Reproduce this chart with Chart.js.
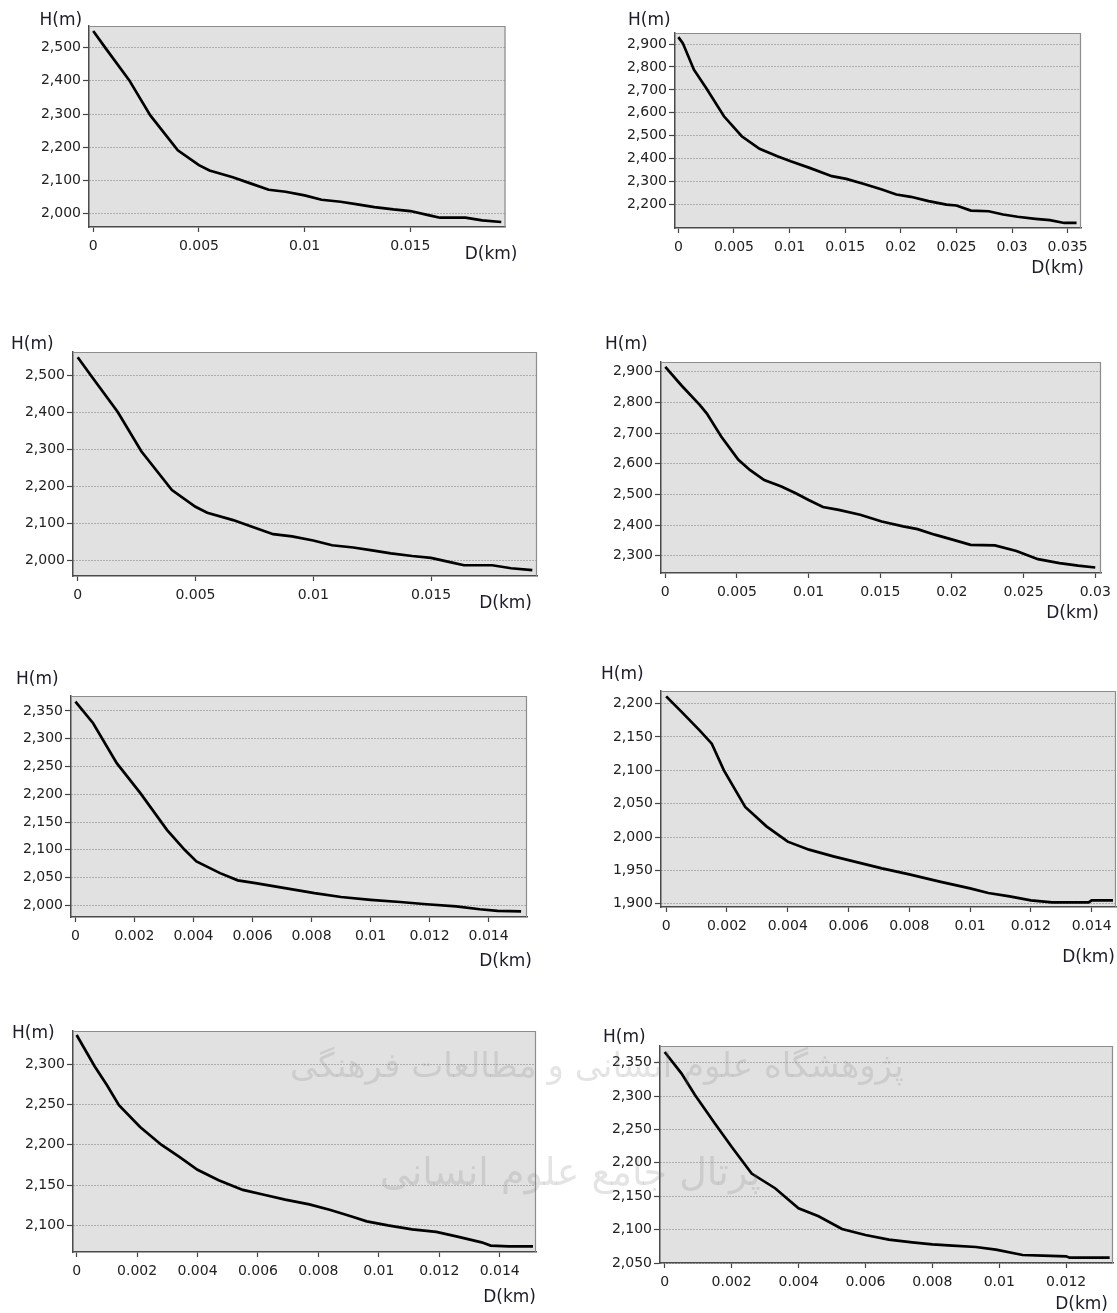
<!DOCTYPE html>
<html>
<head>
<meta charset="utf-8">
<script src="https://cdn.jsdelivr.net/npm/chart.js@4.4.1/dist/chart.umd.min.js"></script>
<style>
  html, body { margin: 0; padding: 0; background: #fff; }
  body { width: 1117px; height: 1313px; position: relative; overflow: hidden; }
  .panel { position: absolute; }
  .wm { position: absolute; font-family: "DejaVu Sans", sans-serif; color: rgba(120,120,120,0.2);
        white-space: nowrap; pointer-events: none; z-index: 5; }
</style>
</head>
<body>
<div class="wm" dir="rtl" style="left:290px; top:1045px; font-size:34px;">پژوهشگاه علوم انسانی و مطالعات فرهنگی</div>
<div class="wm" dir="rtl" style="left:380px; top:1150px; font-size:38px;">پرتال جامع علوم انسانی</div>
<script>
// elevation profiles, D in km, H in m
// profile A is used by the two upper-left charts
const dA = [0, 0.0006, 0.0017, 0.0027, 0.004, 0.005, 0.0055, 0.0066, 0.0074, 0.0083, 0.0091, 0.01, 0.0108, 0.0117, 0.0125, 0.0133, 0.0142, 0.015, 0.0159, 0.0164, 0.0176, 0.0184, 0.0193];
const hA = [2550, 2497, 2402, 2296, 2191, 2146, 2130, 2110, 2092, 2072, 2066, 2055, 2042, 2036, 2028, 2020, 2013, 2008, 1995, 1988, 1988, 1980, 1975];

const dB = [0, 0.0004, 0.0014, 0.0025, 0.0041, 0.0057, 0.0073, 0.0089, 0.0101, 0.0118, 0.0138, 0.0151, 0.0167, 0.0183, 0.0196, 0.0209, 0.0225, 0.0241, 0.025, 0.0263, 0.0279, 0.0292, 0.0305, 0.0321, 0.0334, 0.0347, 0.0358];
const hB = [2930, 2904, 2788, 2708, 2585, 2498, 2443, 2411, 2389, 2360, 2324, 2312, 2290, 2266, 2244, 2234, 2215, 2200, 2196, 2174, 2171, 2157, 2147, 2138, 2132, 2120, 2120];

const dC = [0, 0.0011, 0.0024, 0.0029, 0.0039, 0.0051, 0.0059, 0.0069, 0.0081, 0.0091, 0.01, 0.011, 0.0121, 0.0136, 0.0151, 0.0166, 0.0176, 0.0188, 0.0201, 0.0213, 0.023, 0.0245, 0.026, 0.0275, 0.0288, 0.03];
const hC = [2916, 2857, 2792, 2764, 2689, 2613, 2580, 2547, 2526, 2504, 2482, 2459, 2450, 2434, 2412, 2396, 2387, 2369, 2352, 2336, 2334, 2316, 2289, 2276, 2268, 2262];

const dD = [0, 0.0006, 0.0014, 0.0022, 0.0031, 0.0037, 0.0041, 0.0049, 0.0055, 0.0061, 0.0071, 0.0081, 0.009, 0.01, 0.011, 0.0119, 0.0129, 0.0137, 0.0143, 0.0151];
const hD = [2367, 2328, 2256, 2202, 2136, 2100, 2079, 2058, 2045, 2040, 2031, 2022, 2015, 2010, 2006, 2002, 1998, 1993, 1990, 1989];

const dE = [0, 0.0005, 0.0011, 0.0015, 0.0019, 0.0026, 0.0033, 0.004, 0.0047, 0.0055, 0.0062, 0.0071, 0.008, 0.009, 0.01, 0.0106, 0.0113, 0.012, 0.0127, 0.0139, 0.014, 0.0147];
const hE = [2211, 2188, 2160, 2140, 2100, 2045, 2016, 1993, 1981, 1971, 1963, 1953, 1944, 1933, 1923, 1916, 1911, 1905, 1902, 1902, 1905, 1905];

const dF = [0, 0.0006, 0.001, 0.0014, 0.0021, 0.0028, 0.0034, 0.004, 0.0047, 0.0055, 0.0062, 0.0069, 0.0077, 0.0084, 0.0091, 0.0096, 0.0103, 0.0111, 0.0119, 0.0126, 0.0134, 0.0137, 0.0143, 0.0151];
const hF = [2336, 2297, 2274, 2249, 2222, 2200, 2185, 2169, 2156, 2144, 2138, 2132, 2126, 2119, 2111, 2105, 2100, 2095, 2092, 2086, 2079, 2075, 2074, 2074];

const dG = [0, 0.0005, 0.0009, 0.0015, 0.002, 0.0026, 0.0033, 0.004, 0.0046, 0.0053, 0.006, 0.0067, 0.0074, 0.008, 0.0086, 0.0093, 0.0099, 0.0107, 0.0113, 0.012, 0.0121, 0.0133];
const hG = [2366, 2334, 2302, 2259, 2224, 2184, 2162, 2132, 2120, 2101, 2092, 2085, 2081, 2078, 2076, 2074, 2070, 2062, 2061, 2060, 2058, 2058];

// tick labels
const xTicks015 = [0, 0.005, 0.01, 0.015];
const xTicks035 = [0, 0.005, 0.01, 0.015, 0.02, 0.025, 0.03, 0.035];
const xTicks030 = [0, 0.005, 0.01, 0.015, 0.02, 0.025, 0.03];
const xTicks014 = [0, 0.002, 0.004, 0.006, 0.008, 0.01, 0.012, 0.014];
const xTicks012 = [0, 0.002, 0.004, 0.006, 0.008, 0.01, 0.012];
const yTicksA = [2000, 2100, 2200, 2300, 2400, 2500];
const yTicksB = [2200, 2300, 2400, 2500, 2600, 2700, 2800, 2900];
const yTicksC = [2300, 2400, 2500, 2600, 2700, 2800, 2900];
const yTicksD = [2000, 2050, 2100, 2150, 2200, 2250, 2300, 2350];
const yTicksE = [1900, 1950, 2000, 2050, 2100, 2150, 2200];
const yTicksF = [2100, 2150, 2200, 2250, 2300];
const yTicksG = [2050, 2100, 2150, 2200, 2250, 2300, 2350];

const yLabel = 'H(m)';
const xLabel = 'D(km)';

// page layout: plot area box, axis ranges, label anchors
const Y_W = 60, X_H = 30, PAD_L = 10, PAD_T = 32, PAD_R = 25, PAD_B = 36;
const panels = [
  { d: dA, h: hA, xt: xTicks015, yt: yTicksA, xr: [-0.0002, 0.0195], yr: [1960, 2565],
    L: 88.5, T: 26, R: 505, B: 227, hm: [39, 25], dk: [517, 259] },
  { d: dB, h: hB, xt: xTicks035, yt: yTicksB, xr: [-0.0003, 0.0362], yr: [2098, 2948],
    L: 675, T: 33, R: 1081, B: 228, hm: [628, 25], dk: [1084, 273] },
  { d: dA, h: hA, xt: xTicks015, yt: yTicksA, xr: [-0.0002, 0.0195], yr: [1959, 2564],
    L: 73, T: 352, R: 537, B: 576, hm: [11, 349], dk: [532, 608] },
  { d: dC, h: hC, xt: xTicks030, yt: yTicksC, xr: [-0.0003, 0.0304], yr: [2244, 2932],
    L: 661, T: 362, R: 1101, B: 573, hm: [605, 349], dk: [1099, 618] },
  { d: dD, h: hD, xt: xTicks014, yt: yTicksD, xr: [-0.00015, 0.0153], yr: [1979, 2377],
    L: 71, T: 696, R: 527, B: 917, hm: [16, 684], dk: [532, 966] },
  { d: dE, h: hE, xt: xTicks014, yt: yTicksE, xr: [-0.00017, 0.0148], yr: [1895, 2219],
    L: 661, T: 691, R: 1116, B: 907, hm: [601, 679], dk: [1115, 962] },
  { d: dF, h: hF, xt: xTicks014, yt: yTicksF, xr: [-0.00012, 0.0152], yr: [2067, 2341],
    L: 73, T: 1031, R: 536, B: 1252, hm: [12, 1038], dk: [536, 1302] },
  { d: dG, h: hG, xt: xTicks012, yt: yTicksG, xr: [-0.00014, 0.0134], yr: [2050, 2375],
    L: 660, T: 1046, R: 1113, B: 1263, hm: [603, 1042], dk: [1108, 1309] }
];

const fmt = v => Number(v).toLocaleString('en-US', { maximumFractionDigits: 3 });
const tickFont = { family: 'DejaVu Sans', size: 14 };
const titleFont = '17px "DejaVu Sans"';

// grey plot area, light frame on top/right, and the two axis names
const plotFrame = {
  id: 'plotFrame',
  beforeDraw(chart) {
    const a = chart.chartArea, ctx = chart.ctx;
    ctx.save();
    ctx.fillStyle = '#e1e1e1';
    ctx.fillRect(a.left, a.top, a.right - a.left, a.bottom - a.top);
    ctx.restore();
  },
  beforeDatasetsDraw(chart) {
    const a = chart.chartArea, ctx = chart.ctx;
    ctx.save();
    ctx.strokeStyle = '#8c8c8c';
    ctx.lineWidth = 1.2;
    ctx.beginPath();
    ctx.moveTo(a.left, a.top + 0.5);
    ctx.lineTo(a.right - 0.5, a.top + 0.5);
    ctx.lineTo(a.right - 0.5, a.bottom);
    ctx.stroke();
    ctx.restore();
  },
  afterDraw(chart, args, opts) {
    const ctx = chart.ctx;
    ctx.save();
    ctx.fillStyle = '#1c1c2a';
    ctx.font = titleFont;
    ctx.textBaseline = 'alphabetic';
    ctx.textAlign = 'left';
    ctx.fillText(yLabel, opts.hm[0], opts.hm[1]);
    ctx.textAlign = 'right';
    ctx.fillText(xLabel, opts.dk[0], opts.dk[1]);
    ctx.restore();
  }
};

panels.forEach(p => {
  const left = p.L - Y_W - PAD_L, top = p.T - PAD_T;
  const box = document.createElement('div');
  box.className = 'panel';
  box.style.left = left + 'px';
  box.style.top = top + 'px';
  box.style.width = (p.R - p.L + Y_W + PAD_L + PAD_R) + 'px';
  box.style.height = (p.B - p.T + X_H + PAD_T + PAD_B) + 'px';
  const cv = document.createElement('canvas');
  box.appendChild(cv);
  document.body.appendChild(box);

  new Chart(cv, {
    type: 'line',
    data: {
      datasets: [{
        data: p.d.map((x, i) => ({ x: x, y: p.h[i] })),
        borderColor: '#000',
        borderWidth: 2.7,
        pointRadius: 0,
        tension: 0,
        fill: false
      }]
    },
    options: {
      responsive: true,
      maintainAspectRatio: false,
      animation: false,
      events: [],
      layout: { padding: { left: PAD_L, top: PAD_T, right: PAD_R, bottom: PAD_B } },
      plugins: {
        legend: { display: false },
        tooltip: { enabled: false },
        plotFrame: { hm: [p.hm[0] - left, p.hm[1] - top], dk: [p.dk[0] - left, p.dk[1] - top] }
      },
      scales: {
        x: {
          type: 'linear',
          min: p.xr[0],
          max: p.xr[1],
          afterBuildTicks: s => { s.ticks = p.xt.map(v => ({ value: v })); },
          afterFit: s => { s.height = X_H; },
          ticks: { font: tickFont, color: '#222', padding: 6, maxRotation: 0, autoSkip: false, callback: v => fmt(v) },
          grid: { drawOnChartArea: false, tickLength: 5, tickColor: '#444', tickWidth: 1.2 },
          border: { color: '#4a4a4a', width: 1.5 }
        },
        y: {
          type: 'linear',
          min: p.yr[0],
          max: p.yr[1],
          afterBuildTicks: s => { s.ticks = p.yt.map(v => ({ value: v })); },
          afterFit: s => { s.width = Y_W; },
          ticks: { font: tickFont, color: '#222', padding: 2, autoSkip: false, callback: v => fmt(v) },
          grid: { drawOnChartArea: true, color: '#7a7a7a', lineWidth: 1, tickLength: 6, tickColor: '#444', tickWidth: 1.2, tickBorderDash: [] },
          border: { color: '#4a4a4a', width: 1.5, dash: [1, 2] }
        }
      }
    },
    plugins: [plotFrame]
  });
});
</script>
</body>
</html>
